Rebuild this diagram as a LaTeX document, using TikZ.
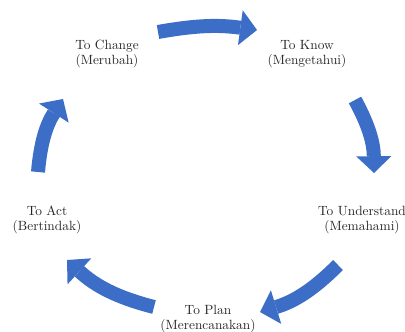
\documentclass[tikz,border=0pt]{standalone}
\usepackage{tikz}
\usetikzlibrary{arrows.meta}
\definecolor{cycblue}{RGB}{60,110,200}
\tikzstyle{stage} = [align=center, inner sep=0pt, font=\fontsize{9.5}{10.7}\selectfont, text=black!85]
\tikzstyle{cyclearrow} = [line width=0.35cm, draw=cycblue, -{Triangle[width=0.88cm,length=0.42cm,line width=0pt]}, bend left=14]

\begin{document}
\begin{tikzpicture}[x=0.025cm, y=0.025cm]
\useasboundingbox (0,0) rectangle (405,331);

\node (change) [stage] at (107,277) {To Change\\(Merubah)};
\node (know) [stage] at (307,277) {To Know\\(Mengetahui)};
\node (understand) [stage] at (362,111) {To Understand\\(Memahami)};
\node (plan) [stage] at (208,12) {To Plan\\(Merencanakan)};
\node (act) [stage] at (47,111) {To Act\\(Bertindak)};

% ends of the curved arrows
\coordinate (s1) at (158,299); \coordinate (e1) at (257,301);
\coordinate (s2) at (355,231); \coordinate (e2) at (374,158);
\coordinate (s3) at (338,66);  \coordinate (e3) at (260,19);
\coordinate (s4) at (154,24);  \coordinate (e4) at (67,71);
\coordinate (s5) at (38,159);  \coordinate (e5) at (63,232);

\draw [cyclearrow, bend left=9] (s1) to (e1);
\draw [cyclearrow] (s2) to (e2);
\draw [cyclearrow] (s3) to (e3);
\draw [cyclearrow] (s4) to (e4);
\draw [cyclearrow] (s5) to (e5);

\end{tikzpicture}
\end{document}
